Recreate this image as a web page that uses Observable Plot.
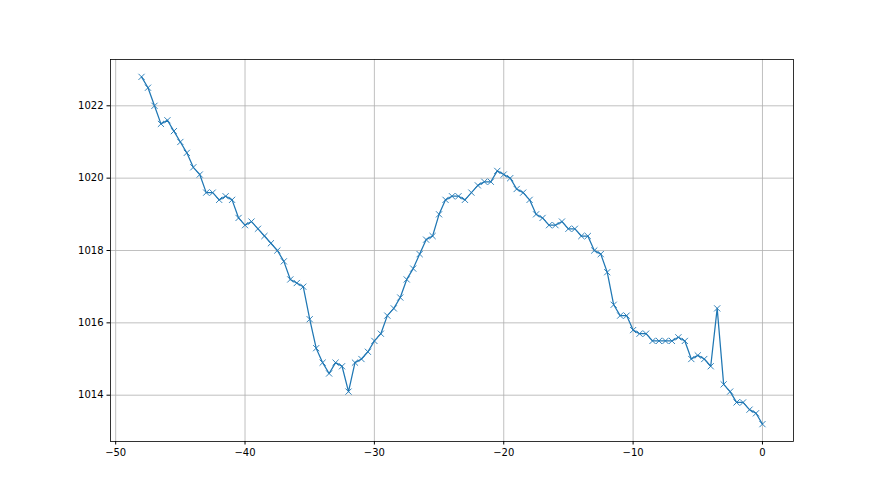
<!DOCTYPE html>
<html>
<head>
<meta charset="utf-8">
<script src="https://cdn.jsdelivr.net/npm/d3@7"></script>
<script src="https://cdn.jsdelivr.net/npm/@observablehq/plot@0.6"></script>
<style>
  html, body { margin: 0; padding: 0; background: #fff; }
  #chart svg { display: block; }
</style>
</head>
<body>
<div id="chart"></div>
<script>
const xs = [-48,-47.5,-47,-46.5,-46,-45.5,-45,-44.5,-44,-43.5,-43,-42.5,-42,-41.5,-41,-40.5,-40,-39.5,-39,-38.5,-38,-37.5,-37,-36.5,-36,-35.5,-35,-34.5,-34,-33.5,-33,-32.5,-32,-31.5,-31,-30.5,-30,-29.5,-29,-28.5,-28,-27.5,-27,-26.5,-26,-25.5,-25,-24.5,-24,-23.5,-23,-22.5,-22,-21.5,-21,-20.5,-20,-19.5,-19,-18.5,-18,-17.5,-17,-16.5,-16,-15.5,-15,-14.5,-14,-13.5,-13,-12.5,-12,-11.5,-11,-10.5,-10,-9.5,-9,-8.5,-8,-7.5,-7,-6.5,-6,-5.5,-5,-4.5,-4,-3.5,-3,-2.5,-2,-1.5,-1,-0.5,0];
const pressure = [1022.8,1022.5,1022.0,1021.5,1021.6,1021.3,1021.0,1020.7,1020.3,1020.1,1019.6,1019.6,1019.4,1019.5,1019.4,1018.9,1018.7,1018.8,1018.6,1018.4,1018.2,1018.0,1017.7,1017.2,1017.1,1017.0,1016.1,1015.3,1014.9,1014.6,1014.9,1014.8,1014.1,1014.9,1015.0,1015.2,1015.5,1015.7,1016.2,1016.4,1016.7,1017.2,1017.5,1017.9,1018.3,1018.4,1019.0,1019.4,1019.5,1019.5,1019.4,1019.6,1019.8,1019.9,1019.9,1020.2,1020.1,1020.0,1019.7,1019.6,1019.4,1019.0,1018.9,1018.7,1018.7,1018.8,1018.6,1018.6,1018.4,1018.4,1018.0,1017.9,1017.4,1016.5,1016.2,1016.2,1015.8,1015.7,1015.7,1015.5,1015.5,1015.5,1015.5,1015.6,1015.5,1015.0,1015.1,1015.0,1014.8,1016.4,1014.3,1014.1,1013.8,1013.8,1013.6,1013.5,1013.2];
const xTicks = [-50,-40,-30,-20,-10,0];
const yTicks = [1014,1016,1018,1020,1022];

const data = xs.map((x, i) => ({x, y: pressure[i]}));
const fmtX = d => String(d).replace("-", "\u2212");
const fmtY = d => String(d);

const chart = Plot.plot({
  width: 880,
  height: 495,
  marginLeft: 110,
  marginRight: 87,
  marginTop: 59,
  marginBottom: 54,
  style: {fontFamily: "DejaVu Sans", fontSize: "10px", color: "#000", background: "#fff"},
  x: {domain: [-50.4, 2.4], label: null},
  y: {domain: [1012.72, 1023.28], label: null},
  marks: [
    Plot.gridX(xTicks, {stroke: "#b0b0b0", strokeOpacity: 1, strokeWidth: 0.8}),
    Plot.gridY(yTicks, {stroke: "#b0b0b0", strokeOpacity: 1, strokeWidth: 0.8}),
    Plot.line(data, {x: "x", y: "y", stroke: "#1f77b4", strokeWidth: 1.25}),
    Plot.dot(data, {x: "x", y: "y", symbol: "times", r: 2.9, stroke: "#1f77b4", strokeWidth: 0.9}),
    Plot.axisX(xTicks, {tickFormat: fmtX, tickSize: 3.5, tickPadding: 3.5, label: null}),
    Plot.axisY(yTicks, {tickFormat: fmtY, tickSize: 3.5, tickPadding: 3.5, label: null}),
    Plot.frame({stroke: "#000", strokeWidth: 0.8})
  ]
});
document.getElementById("chart").append(chart);
</script>
</body>
</html>
